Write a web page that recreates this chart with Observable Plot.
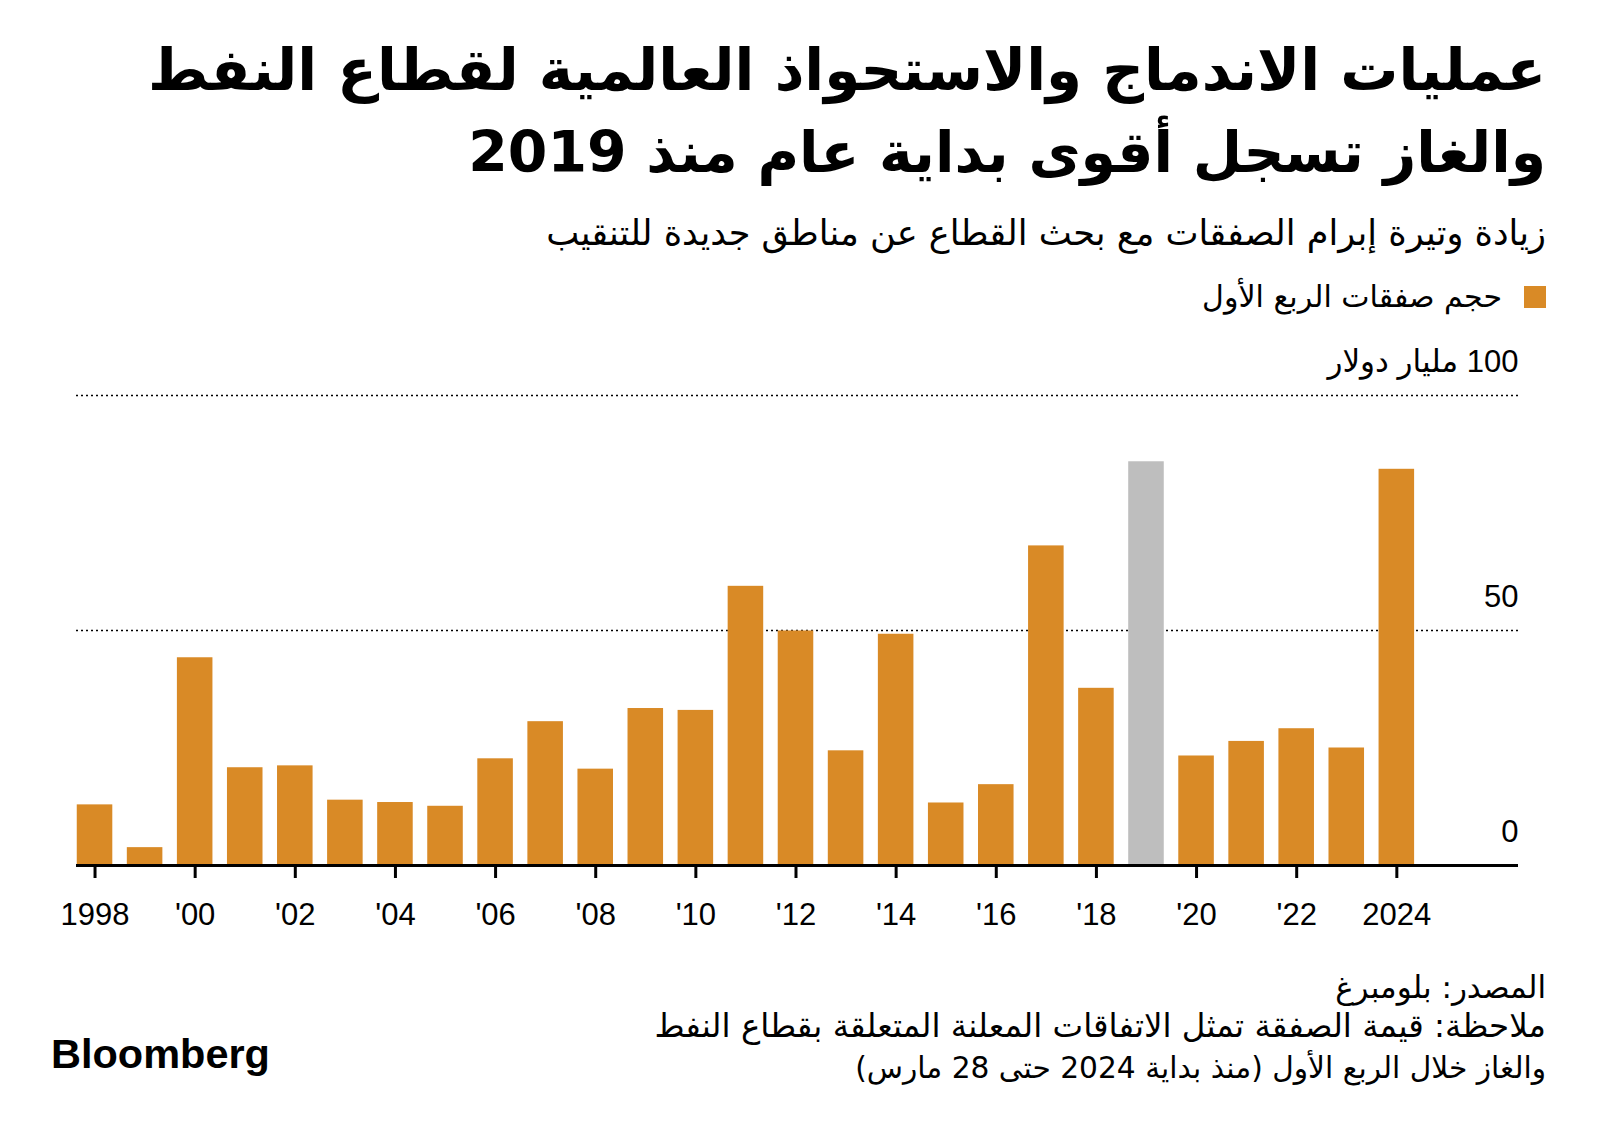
<!DOCTYPE html>
<html lang="ar">
<head>
<meta charset="utf-8">
<script src="https://cdn.jsdelivr.net/npm/d3@7"></script>
<script src="https://cdn.jsdelivr.net/npm/@observablehq/plot@0.6"></script>
<style>
  html, body { margin: 0; padding: 0; background: #fff; }
  body { width: 1600px; height: 1134px; position: relative; overflow: hidden; color: #000; }
  .rt { position: absolute; right: 54px; direction: rtl; text-align: right; white-space: nowrap; font-family: "DejaVu Sans", sans-serif; }
  .rt span { display: inline-block; }
  #chart { position: absolute; left: 0; top: 340px; }
  #logo { position: absolute; left: 51px; font-family: "Liberation Sans", Arial, sans-serif; font-weight: bold; white-space: nowrap; }
</style>
</head>
<body>
<div class="rt" id="t1" style="font-weight:bold;"><span>عمليات الاندماج والاستحواذ العالمية لقطاع النفط</span></div>
<div class="rt" id="t2" style="font-weight:bold;"><span>والغاز تسجل أقوى بداية عام منذ 2019</span></div>
<div class="rt" id="sub"><span>زيادة وتيرة إبرام الصفقات مع بحث القطاع عن مناطق جديدة للتنقيب</span></div>
<div id="legendSwatch" style="position:absolute; left:1524px; top:286px; width:22px; height:22px; background:#D98A26;"></div>
<div class="rt" id="leg" style="right:98px;"><span>حجم صفقات الربع الأول</span></div>
<div id="chart"></div>
<div class="rt" id="f1"><span>المصدر: بلومبرغ</span></div>
<div class="rt" id="f2"><span>ملاحظة: قيمة الصفقة تمثل الاتفاقات المعلنة المتعلقة بقطاع النفط</span></div>
<div class="rt" id="f3"><span>والغاز خلال الربع الأول (منذ بداية 2024 حتى 28 مارس)</span></div>
<div id="logo"><span>Bloomberg</span></div>
<script>
// ---- data ----
const years = [1998, 1999, 2000, 2001, 2002, 2003, 2004, 2005, 2006, 2007, 2008, 2009, 2010, 2011,
               2012, 2013, 2014, 2015, 2016, 2017, 2018, 2019, 2020, 2021, 2022, 2023, 2024];
const dealValues = [12.9, 3.8, 44.2, 20.8, 21.2, 13.9, 13.4, 12.6, 22.7, 30.6, 20.5, 33.4, 33.0, 59.4,
                    49.9, 24.4, 49.2, 13.3, 17.2, 68.0, 37.7, 85.9, 23.3, 26.4, 29.1, 25.0, 84.3];
const highlightYear = 2019;
const xTickYears = [1998, 2000, 2002, 2004, 2006, 2008, 2010, 2012, 2014, 2016, 2018, 2020, 2022, 2024];
const xTickLabels = ["1998", "'00", "'02", "'04", "'06", "'08", "'10", "'12", "'14", "'16", "'18", "'20", "'22", "2024"];
const yTicks = [0, 50, 100];
const yTickLabels = ["0", "50", "100 مليار دولار"];

const ORANGE = "#D98A26";
const GRAY = "#BEBEBE";

const data = years.map((year, i) => ({year, value: dealValues[i]}));
const xLabel = new Map(xTickYears.map((y, i) => [y, xTickLabels[i]]));
const yLabel = new Map(yTicks.map((v, i) => [v, "\u202B" + yTickLabels[i] + "\u202C"]));

const chart = Plot.plot({
  width: 1600,
  height: 600,
  marginTop: 55,
  marginBottom: 75,
  marginLeft: 76,
  marginRight: 82,
  x: {domain: [1997.63, 2026.43], axis: null},
  y: {domain: [0, 100], axis: null},
  color: {type: "identity"},
  style: {fontFamily: "'Liberation Sans', 'DejaVu Sans', sans-serif", fontSize: "31px", color: "#000", background: "transparent"},
  marks: [
    Plot.ruleY([50, 100], {stroke: "#000", strokeWidth: 1.5, strokeDasharray: "2,3"}),
    Plot.rectY(data, {
      x1: d => d.year - 0.355,
      x2: d => d.year + 0.355,
      y1: 0,
      y2: "value",
      fill: d => d.year === highlightYear ? GRAY : ORANGE
    }),
    Plot.ruleY([0], {stroke: "#000", strokeWidth: 3}),
    Plot.axisX({
      ticks: xTickYears,
      tickFormat: d => xLabel.get(d),
      tickSize: 13,
      tickPadding: 24,
      strokeWidth: 3,
      fontSize: 31,
      anchor: "bottom"
    }),
    Plot.text(yTicks, {
      y: d => d,
      text: d => yLabel.get(d),
      frameAnchor: "right",
      textAnchor: "end",
      dy: -33,
      fontSize: 31,
      fill: "#000"
    })
  ]
});
document.getElementById("chart").appendChild(chart);

// ---- text layout: fit width, then center vertically ----
function place(id, targetW, centerY, lineH) {
  const div = document.getElementById(id);
  const span = div.querySelector("span");
  div.style.lineHeight = lineH + "px";
  span.style.fontSize = "40px";
  const w = span.getBoundingClientRect().width;
  span.style.fontSize = (40 * targetW / w) + "px";
  div.style.top = (centerY - lineH / 2) + "px";
}
place("t1", 1398, 70, 80);
place("t2", 1078, 152, 80);
place("sub", 1000, 233, 50);
place("leg", 300, 297, 44);
place("f1", 211, 987, 40);
place("f2", 892, 1026, 40);
place("f3", 691, 1068, 40);
place("logo", 219, 1054, 50);
</script>
</body>
</html>
